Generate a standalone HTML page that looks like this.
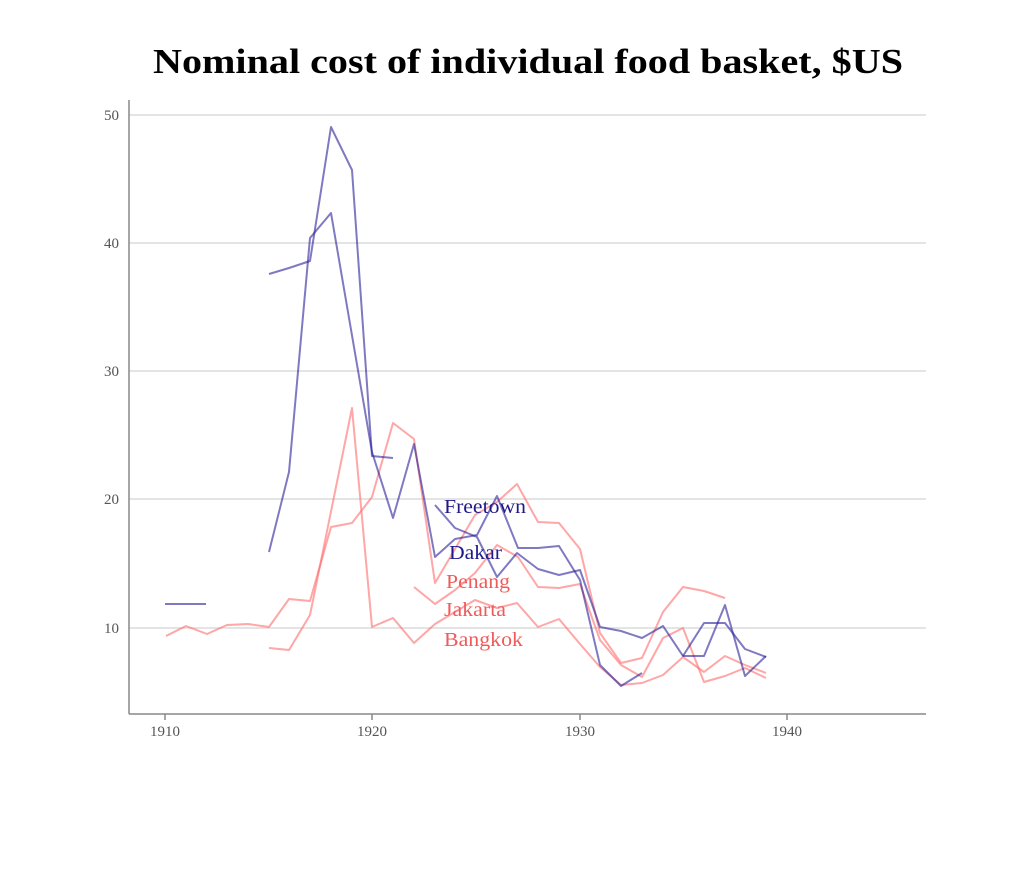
<!DOCTYPE html>
<html><head><meta charset="utf-8"><style>
html,body{margin:0;padding:0;background:#fff;}
svg{display:block}
</style></head><body>
<svg width="1024" height="870" viewBox="0 0 1024 870" xmlns="http://www.w3.org/2000/svg" font-family="Liberation Serif, serif">
<text x="153" y="73" textLength="750" lengthAdjust="spacingAndGlyphs" font-size="35" font-weight="bold" fill="#000">Nominal cost of individual food basket, $US</text>
<g stroke="#dcdcdc" stroke-width="1.5">
<line x1="129" y1="115" x2="926" y2="115"/>
<line x1="129" y1="243" x2="926" y2="243"/>
<line x1="129" y1="371" x2="926" y2="371"/>
<line x1="129" y1="499" x2="926" y2="499"/>
<line x1="129" y1="628" x2="926" y2="628"/>
</g>
<g stroke="#888" stroke-width="1.5">
<line x1="129" y1="100" x2="129" y2="714"/>
<line x1="129" y1="714" x2="926" y2="714"/>
<line x1="165" y1="714" x2="165" y2="720"/>
<line x1="372" y1="714" x2="372" y2="720"/>
<line x1="580" y1="714" x2="580" y2="720"/>
<line x1="787" y1="714" x2="787" y2="720"/>
</g>
<g font-size="15" fill="#555" text-anchor="end">
<text x="119" y="120">50</text>
<text x="119" y="248">40</text>
<text x="119" y="376">30</text>
<text x="119" y="504">20</text>
<text x="119" y="633">10</text>
</g>
<g font-size="15" fill="#555" text-anchor="middle">
<text x="165" y="736">1910</text>
<text x="372" y="736">1920</text>
<text x="580" y="736">1930</text>
<text x="787" y="736">1940</text>
</g>
<g fill="none" stroke="#ff6b6b" stroke-opacity="0.6" stroke-width="2" stroke-linejoin="round">
<polyline points="166,636 186,626 207,634 227,625 248,624 269,627 289,599 310,601 331,527 352,523 372,497 393,423 414,439 435,583 455,549 475,515 497,502 517,484 538,522 559,523 580,549 600,633 621,663 642,658 663,612 683,587 704,591 725,598"/>
<polyline points="414,587 435,604 455,590 475,573 497,545 518,557 538,587 559,588 580,584 600,640 621,665 642,677 663,638 683,628 704,682 725,676 745,668 766,678"/>
<polyline points="269,648 289,650 310,615 352,408 372,627 393,618 414,643 435,624 455,612 475,600 497,608 517,603 538,627 559,619 580,644 600,667 621,685 642,683 663,675 683,657 704,672 725,656 745,665 766,673"/>
</g>
<g fill="none" stroke="#2a1f9a" stroke-opacity="0.6" stroke-width="2" stroke-linejoin="round">
<polyline points="165,604 206,604"/>
<polyline points="269,274 289,268 310,261 331,127 352,170 372,456 393,458"/>
<polyline points="269,552 289,472 310,238 331,213 372,452 393,518 414,444 435,557 455,539 477,535 497,496 518,548 538,548 559,546 580,580 600,665 621,686 642,673"/>
<polyline points="435,505 455,528 477,537 497,577 517,553 538,569 559,575 580,570 600,627 621,631 642,638 663,626 683,656 704,656 725,605 745,676 766,656"/>
<polyline points="683,656 704,623 725,623 745,649 766,657"/>
</g>
<g font-size="20">
<text x="444" y="513" textLength="82" lengthAdjust="spacingAndGlyphs" fill="#1f1a8a">Freetown</text>
<text x="449" y="559" textLength="53" lengthAdjust="spacingAndGlyphs" fill="#1f1a8a">Dakar</text>
<text x="446" y="588" textLength="64" lengthAdjust="spacingAndGlyphs" fill="#f05a5a">Penang</text>
<text x="444" y="616" textLength="62" lengthAdjust="spacingAndGlyphs" fill="#f05a5a">Jakarta</text>
<text x="444" y="646" textLength="79" lengthAdjust="spacingAndGlyphs" fill="#f05a5a">Bangkok</text>
</g>
</svg>
</body></html>
